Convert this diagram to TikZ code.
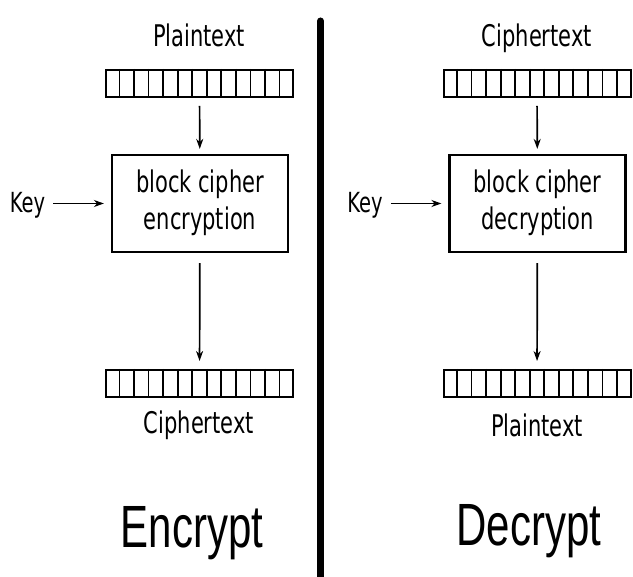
\documentclass[tikz,border=0pt]{standalone}
\usepackage{fontspec}
\setmainfont{DejaVu Sans}
\newfontfamily\titlefont{Liberation Sans}
\usetikzlibrary{calc,arrows.meta}

% tall, narrow lettering
\newcommand{\tallA}[1]{\scalebox{1}[1.42]{#1}}

\tikzset{
  strip/.style={draw, line width=2pt, minimum width=187pt, minimum height=27pt, inner sep=0pt},
  cipherbox/.style={draw, line width=2.2pt, minimum width=176pt, minimum height=97pt, inner sep=0pt,
    font=\fontsize{21}{26.5}\selectfont, align=center},
  lbl/.style={inner sep=0pt, anchor=base, font=\fontsize{21}{26}\selectfont},
  keylbl/.style={inner sep=0pt, anchor=base, font=\fontsize{19.5}{23}\selectfont},
  big/.style={inner sep=0pt, anchor=base, font=\titlefont\fontsize{42}{50}\selectfont},
  flow/.style={line width=1.7pt, -{Stealth[length=10pt,width=7pt]}}
}

\newcommand{\cells}[1]{%
  \foreach \i in {1,...,12}{
    \draw[line width=1.7pt] ($(#1.north west)!\i/13!(#1.north east)$) -- ($(#1.south west)!\i/13!(#1.south east)$);
  }}

\begin{document}
\begin{tikzpicture}[x=1pt,y=-1pt]
  \useasboundingbox[fill=white] (0,0) rectangle (633,577);

  % divider between the two halves
  \draw[line width=7pt, line cap=round] (320.5,21) -- (320.5,590);

  % ---- encryption ----
  \node[lbl] (ptxtA) at (199,47) {\tallA{Plaintext}};
  \node[strip] (inA) at (199.5,83.5) {};
  \cells{inA}
  \node[cipherbox] (encbox) at (200,203.5) {\tallA{\begin{tabular}{@{}c@{}}block cipher\\encryption\end{tabular}}};
  \node[keylbl] (keyA) at (27.5,213) {\tallA{Key}};
  \node[strip] (outA) at (199.5,383.5) {};
  \cells{outA}
  \node[lbl] (ctxtA) at (199,434) {\tallA{Ciphertext}};
  \node[big] (encT) at (192,548) {\tallA{Encrypt}};

  \draw[flow, shorten <=8pt, shorten >=5pt] (inA) -- (encbox);
  \draw[flow, shorten <=10pt, shorten >=8pt] (encbox) -- (outA);
  \draw[flow, shorten <=8pt, shorten >=7pt] (keyA.east |- encbox.west) -- (encbox.west);

  % ---- decryption ----
  \node[lbl] (ctxtB) at (537,47) {\tallA{Ciphertext}};
  \node[strip] (inB) at (537,83.5) {};
  \cells{inB}
  \node[cipherbox] (decbox) at (537.5,203.5) {\tallA{\begin{tabular}{@{}c@{}}block cipher\\decryption\end{tabular}}};
  \node[keylbl] (keyB) at (365,213) {\tallA{Key}};
  \node[strip] (outB) at (537,383.5) {};
  \cells{outB}
  \node[lbl] (ptxtB) at (537,437) {\tallA{Plaintext}};
  \node[big] (decT) at (529,546) {\tallA{Decrypt}};

  \draw[flow, shorten <=8pt, shorten >=5pt] (inB) -- (decbox);
  \draw[flow, shorten <=10pt, shorten >=8pt] (decbox) -- (outB);
  \draw[flow, shorten <=8pt, shorten >=7pt] (keyB.east |- decbox.west) -- (decbox.west);
\end{tikzpicture}
\end{document}
